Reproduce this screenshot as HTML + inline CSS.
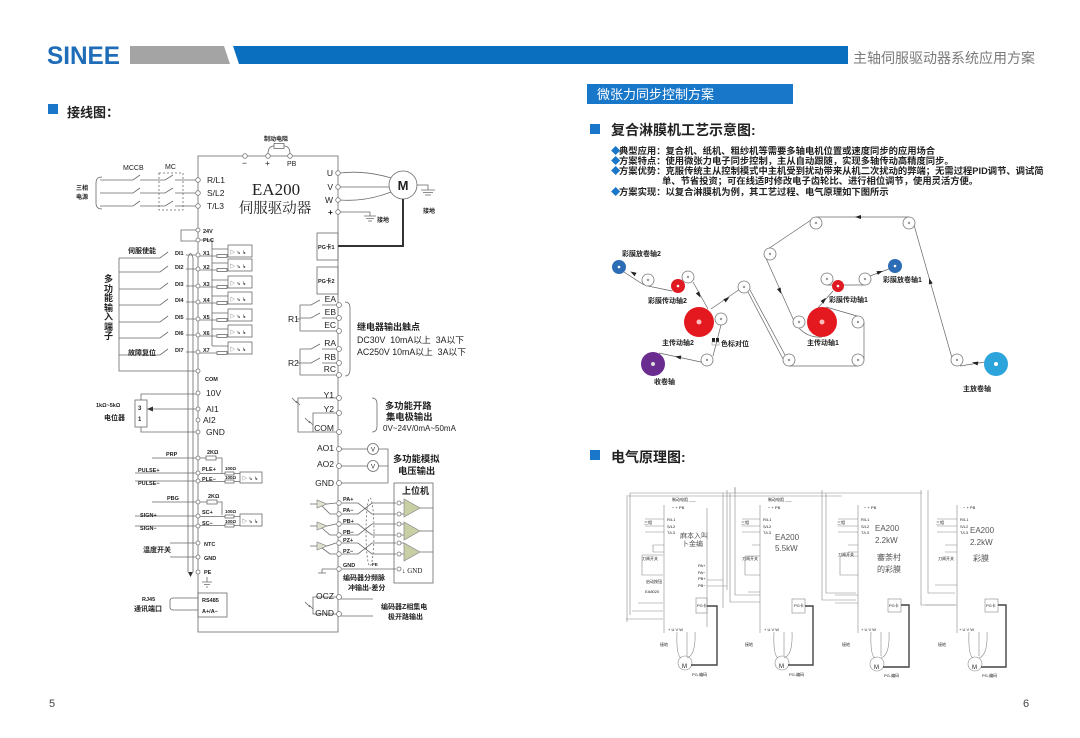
<!DOCTYPE html>
<html><head><meta charset="utf-8">
<style>
html,body{margin:0;padding:0;background:#fff;}
svg{display:block;}
text{font-family:"Liberation Sans","Noto Sans CJK SC",sans-serif;fill:#222;}
.b{font-weight:bold;}
.t6{font-size:6px;}
.t7{font-size:7px;}
.t8{font-size:8.5px;}
.sm{font-size:4px;fill:#888;}
</style></head><body>
<svg width="1080" height="738" viewBox="0 0 1080 738" xmlns="http://www.w3.org/2000/svg">
<rect width="1080" height="738" fill="#fff"/>
<!-- HEADER -->
<text x="47" y="64" font-size="25" font-weight="bold" style="fill:#1f6db8" textLength="73" lengthAdjust="spacingAndGlyphs">SINEE</text>
<polygon points="130,46 224,46 230,64 130,64" fill="#a4a4a4"/>
<polygon points="233,46 848,46 848,64 239,64" fill="#0b6fc0"/>
<text x="853" y="63" font-size="14" style="fill:#7a7a7a">主轴伺服驱动器系统应用方案</text>

<!-- LEFT TITLE -->
<rect x="48" y="104" width="10" height="10" fill="#1a76c8"/>
<text x="67" y="117" font-size="13" class="b">接线图：</text>

<!-- RIGHT TITLES -->
<rect x="587" y="84" width="206" height="20" fill="#1877c9"/>
<text x="597" y="99" font-size="13" style="fill:#fff">微张力同步控制方案</text>
<rect x="590" y="124" width="10" height="10" fill="#1a76c8"/>
<text x="611" y="135" font-size="14" class="b">复合淋膜机工艺示意图:</text>
<g font-size="9.3" class="b">
<text x="611" y="154" style="fill:#1a76c8">◆</text><text x="619" y="154" class="b">典型应用：复合机、纸机、粗纱机等需要多轴电机位置或速度同步的应用场合</text>
<text x="611" y="164" style="fill:#1a76c8">◆</text><text x="619" y="164" class="b">方案特点：使用微张力电子同步控制，主从自动跟随，实现多轴传动高精度同步。</text>
<text x="611" y="174" style="fill:#1a76c8">◆</text><text x="619" y="174" class="b">方案优势：克服传统主从控制模式中主机受到扰动带来从机二次扰动的弊端；无需过程PID调节、调试简</text>
<text x="662" y="184" class="b">单、节省投资；可在线适时修改电子齿轮比、进行相位调节，使用灵活方便。</text>
<text x="611" y="195" style="fill:#1a76c8">◆</text><text x="619" y="195" class="b">方案实现：以复合淋膜机为例，其工艺过程、电气原理如下图所示</text>
</g>

<!-- ============ LEFT WIRING DIAGRAM ============ -->
<g stroke="#6a6a6a" stroke-width="0.8" fill="none">
<rect x="198" y="156" width="140" height="476"/>
<path d="M268,154 Q268,146 274,146 M284,146 Q290,146 290,154"/>
<rect x="274" y="143.5" width="10" height="5"/>
<path d="M100,180 H133 L140,175 M140,180 H165 L173,175 M175,180 H198"/>
<path d="M100,193 H133 L140,188 M140,193 H165 L173,188 M175,193 H198"/>
<path d="M100,206 H133 L140,201 M140,206 H165 L173,201 M175,206 H198"/>
<path d="M102,177 Q96,177 96,183 V203 Q96,209 102,209"/>
<rect x="159" y="173" width="24" height="37" stroke-dasharray="2,2"/>
<path d="M340,173 Q365,170 391,178 M340,187 H389 M340,200 Q365,202 391,192"/>
<circle cx="403" cy="185" r="14"/>
<path d="M417,185 H428 V190 M421,190 H435 M423,192.5 H433 M425,195 H431"/>
<path d="M340,212 H370 V216 M364,216 H376 M366,218.5 H374 M368,221 H372"/>
<rect x="317" y="233" width="21" height="27"/>
<rect x="317" y="267" width="21" height="27"/>
<path d="M297,319 H300 M300,305 V331 M300,305 H311 L320,300 M322,305 H337 M300,318 H311 L320,313 M322,318 H337 M300,331 H337"/>
<path d="M297,363 H300 M300,349 V375 M300,349 H311 L320,344 M322,349 H337 M300,363 H311 L320,358 M322,363 H337 M300,375 H337"/>
<path d="M345,302 Q350,302 350,308 V369 Q350,376 345,376"/>
<path d="M196,230 H181 V241 H196"/>
<path d="M119,258 V371 H196"/>
<path d="M119,258 H160 L168,252 M186,255 H196"/>
<path d="M119,272 H160 L168,266 M186,269 H196"/>
<path d="M119,289 H160 L168,283 M186,286 H196"/>
<path d="M119,305 H160 L168,299 M186,302 H196"/>
<path d="M119,322 H160 L168,316 M186,319 H196"/>
<path d="M119,338 H160 L168,332 M186,335 H196"/>
<path d="M119,355 H160 L168,349 M186,352 H196"/>
<path d="M200,240 H212 V346"/>
<g>
<path d="M212,249 H228 M200,256 H217 M227,256 H228"/><rect x="217" y="254.5" width="10" height="3"/><rect x="228" y="245" width="24" height="12"/>
<path d="M212,263 H228 M200,270 H217 M227,270 H228"/><rect x="217" y="268.5" width="10" height="3"/><rect x="228" y="259" width="24" height="12"/>
<path d="M212,280 H228 M200,287 H217 M227,287 H228"/><rect x="217" y="285.5" width="10" height="3"/><rect x="228" y="276" width="24" height="12"/>
<path d="M212,296 H228 M200,303 H217 M227,303 H228"/><rect x="217" y="301.5" width="10" height="3"/><rect x="228" y="292" width="24" height="12"/>
<path d="M212,313 H228 M200,320 H217 M227,320 H228"/><rect x="217" y="318.5" width="10" height="3"/><rect x="228" y="309" width="24" height="12"/>
<path d="M212,329 H228 M200,336 H217 M227,336 H228"/><rect x="217" y="334.5" width="10" height="3"/><rect x="228" y="325" width="24" height="12"/>
<path d="M212,346 H228 M200,353 H217 M227,353 H228"/><rect x="217" y="351.5" width="10" height="3"/><rect x="228" y="342" width="24" height="12"/>
</g>
<path d="M188,572 V258 Q190.5,249 193,258 V572"/>
<rect x="135" y="400" width="12" height="27"/>
<path d="M141,400 V394 H196 M141,427 V432 H196 M196,409 H152"/>
<path d="M152,458 H196 M200,458 H206 M216,458 H222 V473"/><rect x="206" y="456" width="10" height="4"/>
<path d="M135,473 H196 M135,481 H196 M200,473.5 H225 M234,473.5 H240 M200,481.5 H225 M234,481.5 H240"/>
<rect x="225" y="472" width="9" height="3"/><rect x="225" y="480" width="9" height="3"/><rect x="240" y="472" width="22" height="11"/>
<path d="M152,502 H196 M200,502 H207 M217,502 H222 V515"/><rect x="207" y="500" width="10" height="4"/>
<path d="M135,516 H196 M135,526 H196 M200,516.5 H225 M234,516.5 H240 M200,525.5 H225 M234,525.5 H240"/>
<rect x="225" y="515" width="9" height="3"/><rect x="225" y="524" width="9" height="3"/><rect x="240" y="514" width="22" height="12"/>
<path d="M170,543 H196 M170,557 H196"/>
<path d="M207,577 V582 M202,582 H212 M204,584.5 H210 M206,587 H208"/>
<rect x="198" y="593" width="29" height="24"/>
<path d="M198,598 H173 Q170,598 170,601 V607 Q170,610 173,610 H198"/>
<path d="M337,398 H298 V432 H337 M337,413 H313 V432"/>
<path d="M292,398 L297,403 M296,401 L300,405 M305,418 L310,423 M309,421 L313,425"/>
<path d="M372,398 Q377,398 377,404 V426 Q377,432 372,432"/>
<circle cx="373" cy="449" r="5.5"/><circle cx="373" cy="466" r="5.5"/>
<path d="M341,449 H367 M379,449 H388 V483 M341,466 H367 M379,466 H388 M341,483 H388"/>
<rect x="394" y="483" width="39" height="100"/>
<path d="M310,504 H317 M327,504 L336,503 M322,506 L330,514 H336"/>
<path d="M310,526 H317 M327,526 L336,524 M322,528 L330,535 H336"/>
<path d="M310,546 H317 M327,546 L336,543 M322,548 L330,554 H336"/>
<path d="M342,503 H358 L372,514 H396 M342,514 H358 L372,503 H396"/>
<path d="M342,524 H358 L372,535 H396 M342,535 H358 L372,524 H396"/>
<path d="M342,543 H358 L372,554 H396 M342,554 H358 L372,543 H396"/>
<path d="M342,569 H396 M322,569 H336 M322,569 V573 M318,573 H326"/>
<ellipse cx="370" cy="532" rx="4" ry="34" stroke-dasharray="2,2"/>
<path d="M401,503 H404 M401,514 H404 M401,524 H404 M401,535 H404 M401,543 H404 M401,554 H404 M420,508 H433 M420,531 H433 M420,552 H433"/>
<path d="M337,597 H313 V614 H337 M341,599 H373 M341,616 H373 M305,602 L310,607 M309,605 L313,609"/>
</g>
<path d="M338,246 H403 V199" stroke="#333" stroke-width="2" fill="none"/>
<g fill="#dfe3cf" stroke="#888" stroke-width="0.7">
<polygon points="317,500 317,508 327,504"/><polygon points="317,522 317,530 327,526"/><polygon points="317,542 317,550 327,546"/>
</g>
<g fill="#c9cfa5" stroke="#888" stroke-width="0.7">
<polygon points="404,499 404,517 420,508"/><polygon points="404,522 404,540 420,531"/><polygon points="404,543 404,561 420,552"/>
</g>
<g fill="#fff" stroke="#777" stroke-width="0.8">
<circle cx="245" cy="156" r="2.3"/><circle cx="268" cy="156" r="2.3"/><circle cx="290" cy="156" r="2.3"/>
<circle cx="198" cy="180" r="2.3"/><circle cx="198" cy="193" r="2.3"/><circle cx="198" cy="206" r="2.3"/>
<circle cx="198" cy="230" r="2"/><circle cx="198" cy="240" r="2"/><circle cx="198" cy="255" r="2"/><circle cx="198" cy="269" r="2"/><circle cx="198" cy="286" r="2"/><circle cx="198" cy="302" r="2"/><circle cx="198" cy="319" r="2"/><circle cx="198" cy="335" r="2"/><circle cx="198" cy="352" r="2"/><circle cx="198" cy="371" r="2"/>
<circle cx="198" cy="393" r="2"/><circle cx="198" cy="409" r="2"/><circle cx="198" cy="420" r="2"/><circle cx="198" cy="432" r="2"/>
<circle cx="198" cy="458" r="2"/><circle cx="198" cy="473" r="2"/><circle cx="198" cy="481" r="2"/><circle cx="198" cy="502" r="2"/><circle cx="198" cy="516" r="2"/><circle cx="198" cy="526" r="2"/><circle cx="198" cy="543" r="2"/><circle cx="198" cy="557" r="2"/><circle cx="198" cy="572" r="2"/>
<circle cx="338" cy="173" r="2.3"/><circle cx="338" cy="187" r="2.3"/><circle cx="338" cy="200" r="2.3"/><circle cx="338" cy="212" r="2.3"/>
<circle cx="339" cy="305" r="2.5"/><circle cx="339" cy="318" r="2.5"/><circle cx="339" cy="331" r="2.5"/><circle cx="339" cy="349" r="2.5"/><circle cx="339" cy="363" r="2.5"/><circle cx="339" cy="375" r="2.5"/>
<circle cx="339" cy="398" r="2.5"/><circle cx="339" cy="413" r="2.5"/><circle cx="339" cy="432" r="2.5"/>
<circle cx="339" cy="449" r="2.5"/><circle cx="339" cy="466" r="2.5"/><circle cx="339" cy="483" r="2.5"/>
<circle cx="339" cy="503" r="2.3"/><circle cx="339" cy="514" r="2.3"/><circle cx="339" cy="524" r="2.3"/><circle cx="339" cy="535" r="2.3"/><circle cx="339" cy="543" r="2.3"/><circle cx="339" cy="554" r="2.3"/><circle cx="339" cy="569" r="2.3"/>
<circle cx="399" cy="503" r="2"/><circle cx="399" cy="514" r="2"/><circle cx="399" cy="524" r="2"/><circle cx="399" cy="535" r="2"/><circle cx="399" cy="543" r="2"/><circle cx="399" cy="554" r="2"/><circle cx="399" cy="569" r="2"/>
<circle cx="339" cy="597" r="2.5"/><circle cx="339" cy="614" r="2.5"/>
</g>
<polygon points="147,409 153,406.5 153,411.5" fill="#333"/>
<polygon points="188,572 193,572 190.5,577" fill="#333"/>
<text x="264" y="141" class="t6 b">制动电阻</text>
<text x="242" y="166" class="t8">−</text><text x="265" y="166" class="t8">+</text><text x="287" y="166" class="t7">PB</text>
<text x="123" y="170" class="t7">MCCB</text><text x="165" y="169" class="t7">MC</text>
<text x="76" y="190" class="t6 b">三相</text><text x="76" y="199" class="t6 b">电源</text>
<text x="207" y="183" class="t8">R/L1</text><text x="207" y="196" class="t8">S/L2</text><text x="207" y="209" class="t8">T/L3</text>
<text x="276" y="195" font-size="17" text-anchor="middle" style="font-family:'Liberation Serif','Noto Serif CJK SC',serif">EA200</text>
<text x="275" y="213" font-size="14.5" text-anchor="middle" style="font-family:'Liberation Serif','Noto Serif CJK SC',serif">伺服驱动器</text>
<text x="333" y="176" class="t8" text-anchor="end">U</text><text x="333" y="190" class="t8" text-anchor="end">V</text><text x="333" y="203" class="t8" text-anchor="end">W</text><text x="333" y="215" class="t8 b" text-anchor="end">+</text>
<text x="403" y="190" font-size="13" class="b" text-anchor="middle">M</text>
<text x="423" y="213" class="t6 b">接地</text><text x="377" y="222" class="t6 b">接地</text>
<text x="318" y="249" font-size="5.5" class="b">PG卡1</text><text x="318" y="283" font-size="5.5" class="b">PG卡2</text>
<text x="336" y="302" class="t8" text-anchor="end">EA</text><text x="336" y="315" class="t8" text-anchor="end">EB</text><text x="336" y="328" class="t8" text-anchor="end">EC</text>
<text x="336" y="346" class="t8" text-anchor="end">RA</text><text x="336" y="360" class="t8" text-anchor="end">RB</text><text x="336" y="372" class="t8" text-anchor="end">RC</text>
<text x="288" y="322" class="t8">R1</text><text x="288" y="366" class="t8">R2</text>
<text x="357" y="330" font-size="9" class="b">继电器输出触点</text>
<text x="357" y="343" font-size="8.8" xml:space="preserve">DC30V  10mA以上  3A以下</text>
<text x="357" y="355" font-size="8.8" xml:space="preserve">AC250V 10mA以上  3A以下</text>
<g font-size="5.5" class="b">
<text x="203" y="233">24V</text><text x="203" y="242">PLC</text>
<text x="203" y="255">X1</text><text x="203" y="269">X2</text><text x="203" y="286">X3</text><text x="203" y="302">X4</text><text x="203" y="319">X5</text><text x="203" y="335">X6</text><text x="203" y="352">X7</text>
<text x="175" y="255">DI1</text><text x="175" y="269">DI2</text><text x="175" y="286">DI3</text><text x="175" y="302">DI4</text><text x="175" y="319">DI5</text><text x="175" y="335">DI6</text><text x="175" y="352">DI7</text>
<text x="205" y="381">COM</text>
</g>
<g font-size="5" style="fill:#444">
<text x="230" y="254">▷ ⇘ ↳</text><text x="230" y="268">▷ ⇘ ↳</text><text x="230" y="285">▷ ⇘ ↳</text><text x="230" y="301">▷ ⇘ ↳</text><text x="230" y="318">▷ ⇘ ↳</text><text x="230" y="334">▷ ⇘ ↳</text><text x="230" y="351">▷ ⇘ ↳</text>
<text x="242" y="480">▷ ⇘ ↳</text><text x="242" y="523">▷ ⇘ ↳</text>
</g>
<text x="128" y="253" class="t7 b">伺服使能</text><text x="128" y="355" class="t7 b">故障复位</text>
<g font-size="9" class="b">
<text x="104" y="282">多</text><text x="104" y="292">功</text><text x="104" y="301">能</text><text x="104" y="311">输</text><text x="104" y="320">入</text><text x="104" y="330">端</text><text x="104" y="339">子</text>
</g>
<text x="206" y="396" class="t8">10V</text><text x="206" y="412" class="t8">AI1</text><text x="203" y="423" class="t8">AI2</text><text x="206" y="435" class="t8">GND</text>
<text x="138" y="410" class="t6 b">3</text><text x="138" y="421" class="t6 b">1</text>
<text x="96" y="407" font-size="5.5" class="b">1kΩ~5kΩ</text><text x="104" y="420" class="t7 b">电位器</text>
<g font-size="5.5" class="b">
<text x="166" y="456">PRP</text><text x="207" y="454">2KΩ</text>
<text x="138" y="472">PULSE+</text><text x="138" y="485">PULSE−</text>
<text x="202" y="471">PLE+</text><text x="202" y="481">PLE−</text>
<text x="225" y="470" font-size="4.5">100Ω</text><text x="225" y="479" font-size="4.5">100Ω</text>
<text x="167" y="500">PBG</text><text x="208" y="498">2KΩ</text>
<text x="140" y="517">SIGN+</text><text x="140" y="530">SIGN−</text>
<text x="202" y="514">SC+</text><text x="202" y="525">SC−</text>
<text x="225" y="513" font-size="4.5">100Ω</text><text x="225" y="523" font-size="4.5">100Ω</text>
<text x="204" y="546">NTC</text><text x="204" y="560">GND</text><text x="204" y="574">PE</text>
<text x="202" y="602">RS485</text><text x="202" y="613">A+/A−</text>
<text x="142" y="601">RJ45</text>
</g>
<text x="143" y="552" class="t7 b">温度开关</text>
<text x="134" y="611" class="t7 b">通讯端口</text>
<text x="334" y="398" class="t8" text-anchor="end">Y1</text><text x="334" y="412" class="t8" text-anchor="end">Y2</text><text x="334" y="431" class="t8" text-anchor="end">COM</text>
<text x="385" y="409" font-size="9.3" class="b">多功能开路</text><text x="386" y="420" font-size="9.3" class="b">集电极输出</text>
<text x="383" y="431" font-size="8">0V~24V/0mA~50mA</text>
<text x="334" y="451" class="t8" text-anchor="end">AO1</text><text x="334" y="467" class="t8" text-anchor="end">AO2</text><text x="334" y="486" class="t8" text-anchor="end">GND</text>
<text x="373" y="451.5" font-size="6" text-anchor="middle">V</text><text x="373" y="468.5" font-size="6" text-anchor="middle">V</text>
<text x="393" y="462" font-size="9.3" class="b">多功能模拟</text><text x="398" y="474" font-size="9.3" class="b">电压输出</text>
<text x="402" y="494" font-size="9" class="b">上位机</text>
<g font-size="5.5" class="b">
<text x="343" y="501">PA+</text><text x="343" y="512">PA−</text><text x="343" y="523">PB+</text><text x="343" y="534">PB−</text><text x="343" y="542">PZ+</text><text x="343" y="553">PZ−</text><text x="343" y="567">GND</text>
<text x="372" y="566" font-size="4.5">FE</text>
</g>
<text x="402" y="573" font-size="7" style="font-family:'Liberation Serif',serif">↓ GND</text>
<text x="343" y="580" font-size="7" class="b">编码器分频脉</text><text x="348" y="590" font-size="7" class="b">冲输出-差分</text>
<text x="334" y="599" class="t8" text-anchor="end">OCZ</text><text x="334" y="616" class="t8" text-anchor="end">GND</text>
<text x="381" y="609" font-size="7" class="b">编码器Z相集电</text><text x="388" y="619" font-size="7" class="b">极开路输出</text>

<!-- ============ PROCESS DIAGRAM ============ -->
<g stroke="#666" stroke-width="0.7" fill="none">
<path d="M985,362 L960,366"/>
<path d="M952,358 L914,225"/>
<path d="M909,217 H816"/>
<path d="M811,220 L765,251"/>
<path d="M765,256 L794,321"/>
<path d="M799,328 Q808,338 822,337"/>
<path d="M826,307 L857,316"/>
<path d="M864,322 V360"/>
<path d="M858,366 H789"/>
<path d="M783,359 L748,292"/>
<path d="M740,289 L711,309"/>
<path d="M721,325 L713,356"/>
<path d="M701,362 L659,353"/>
<path d="M624,272 L644,285"/>
<path d="M648,286 L672,291"/>
<path d="M684,281 L688,271"/>
<path d="M693,282 L708,309"/>
<path d="M817,309 L833,291"/>
<path d="M827,285 H865"/>
<path d="M870,276 L889,269"/>
<path d="M750,290 L785,355"/>
</g>
<g fill="#fff" stroke="#777" stroke-width="0.8">
<circle cx="648" cy="280" r="6"/><circle cx="688" cy="277" r="6"/><circle cx="721" cy="319" r="6"/><circle cx="744" cy="287" r="6"/>
<circle cx="707" cy="360" r="6"/><circle cx="789" cy="360" r="6"/><circle cx="858" cy="360" r="6"/><circle cx="858" cy="322" r="6"/>
<circle cx="799" cy="322" r="6"/><circle cx="770" cy="254" r="6"/><circle cx="816" cy="223" r="6"/><circle cx="909" cy="223" r="6"/>
<circle cx="957" cy="360" r="6"/><circle cx="827" cy="279" r="6"/><circle cx="865" cy="279" r="6"/>
</g>
<g fill="#999">
<circle cx="648" cy="280" r="1.2"/><circle cx="688" cy="277" r="1.2"/><circle cx="721" cy="319" r="1.2"/><circle cx="744" cy="287" r="1.2"/>
<circle cx="707" cy="360" r="1.2"/><circle cx="789" cy="360" r="1.2"/><circle cx="858" cy="360" r="1.2"/><circle cx="858" cy="322" r="1.2"/>
<circle cx="799" cy="322" r="1.2"/><circle cx="770" cy="254" r="1.2"/><circle cx="816" cy="223" r="1.2"/><circle cx="909" cy="223" r="1.2"/>
<circle cx="957" cy="360" r="1.2"/><circle cx="827" cy="279" r="1.2"/><circle cx="865" cy="279" r="1.2"/>
</g>
<circle cx="619" cy="267" r="7" fill="#2d6db5"/><circle cx="619" cy="267" r="1.3" fill="#fff"/>
<circle cx="678" cy="286" r="7" fill="#e01a22"/><circle cx="678" cy="286" r="1.3" fill="#fff"/>
<circle cx="699" cy="322" r="15" fill="#e3191f"/><circle cx="699" cy="322" r="2.5" fill="#fbb"/>
<circle cx="653" cy="364" r="12" fill="#6a2d8f"/><circle cx="653" cy="364" r="2" fill="#ddd"/>
<circle cx="822" cy="322" r="15" fill="#e3191f"/><circle cx="822" cy="322" r="2.5" fill="#fbb"/>
<circle cx="838" cy="286" r="6" fill="#e01a22"/><circle cx="838" cy="286" r="1.3" fill="#fff"/>
<circle cx="895" cy="266" r="7" fill="#2d6db5"/><circle cx="895" cy="266" r="1.3" fill="#fff"/>
<circle cx="996" cy="364" r="12" fill="#2ea4dd"/><circle cx="996" cy="364" r="2" fill="#fff"/>
<g fill="#222">
<polygon points="-3,-2 3,0 -3,2" transform="translate(633,273) rotate(210)"/>
<polygon points="-3,-2 3,0 -3,2" transform="translate(699,295) rotate(60)"/>
<polygon points="-3,-2 3,0 -3,2" transform="translate(727,299) rotate(-35)"/>
<polygon points="-3,-2 3,0 -3,2" transform="translate(678,357) rotate(190)"/>
<polygon points="-3,-2 3,0 -3,2" transform="translate(780,291) rotate(66)"/>
<polygon points="-3,-2 3,0 -3,2" transform="translate(824,300) rotate(-50)"/>
<polygon points="-3,-2 3,0 -3,2" transform="translate(880,272) rotate(-20)"/>
<polygon points="-3,-2 3,0 -3,2" transform="translate(858,217) rotate(180)"/>
<polygon points="-3,-2 3,0 -3,2" transform="translate(930,281) rotate(-106)"/>
<polygon points="-3,-2 3,0 -3,2" transform="translate(975,363) rotate(190)"/>
</g>
<rect x="712" y="338" width="3" height="4" fill="#222"/><rect x="716" y="338" width="3" height="4" fill="#222"/>
<rect x="712" y="342" width="7" height="3" fill="none" stroke="#888" stroke-width="0.5"/>
<g font-size="7" class="b">
<text x="622" y="256">彩膜放卷轴2</text>
<text x="648" y="303">彩膜传动轴2</text>
<text x="662" y="345">主传动轴2</text>
<text x="721" y="346">色标对位</text>
<text x="654" y="384">收卷轴</text>
<text x="883" y="282">彩膜放卷轴1</text>
<text x="829" y="302">彩膜传动轴1</text>
<text x="807" y="345">主传动轴1</text>
<text x="963" y="391">主放卷轴</text>
</g>

<!-- ============ ELECTRICAL DIAGRAM ============ -->
<rect x="590" y="450" width="10" height="10" fill="#1a76c8"/>
<text x="611" y="462" font-size="14" class="b">电气原理图:</text>
<g stroke="#888" stroke-width="0.6" fill="none">
<path d="M630,493 H922 M626,496 H842 M735,487 V493"/>
<path d="M627,497 V622 M630,493 V615 M723,493 V608 M727,490 V590"/>
<path d="M730,493 V602 H760 M735,488 V595 H760"/>
<path d="M822,490 V600 H856 M826,493 V593 H856"/>
<path d="M921,490 V605 H955 M928,490 V593 H955"/>
<!-- block1 -->
<path d="M664,505 V633 M707,508 V627 M645,519 H664 M645,526 H664 M645,532 H664 M653,545 H664 V552 H653 Z M642,555 H663 M642,555 V575 H663 M638,603 H663 M632,611 H663 M626,619 H663"/>
<path d="M707,580 H723 M707,586 H727"/>
<path d="M677,632 Q676,655 681,658 M687,632 V656 M695,632 Q696,655 687,658"/>
<circle cx="685" cy="663" r="7"/>
<rect x="696" y="598" width="11" height="15"/>
<!-- block2 -->
<path d="M760,505 V633 M742,519 H760 M742,526 H760 M742,532 H760 M752,545 H760 M745,556 H760 M745,556 V575 H760 M748,592 H760"/>
<path d="M774,632 Q773,655 778,658 M784,632 V656 M792,632 Q793,655 784,658"/>
<circle cx="782" cy="663" r="7"/>
<rect x="792" y="599" width="13" height="14"/>
<!-- block3 -->
<path d="M858,505 V633 M838,519 H858 M838,526 H858 M838,532 H858 M848,545 H858 V552 H848 M840,556 H858 M840,556 V575 H858 M835,595 H858 M835,603 H858"/>
<path d="M871,632 Q870,655 875,658 M881,632 V656 M889,632 Q890,655 881,658"/>
<circle cx="877" cy="664" r="7"/>
<rect x="888" y="599" width="13" height="13"/>
<!-- block4 -->
<path d="M957,505 V633 M937,519 H957 M937,526 H957 M937,532 H957 M945,545 H957 M945,552 H957 M935,585 H957 M925,605 H957"/>
<path d="M969,632 Q968,655 973,658 M979,632 V656 M987,632 Q988,655 979,658"/>
<circle cx="975" cy="664" r="7"/>
<rect x="985" y="599" width="13" height="13"/>
</g>
<g stroke="#444" stroke-width="1.4" fill="none">
<path d="M707,606 H717 V665 H691"/>
<path d="M805,606 H813 V665 H788"/>
<path d="M901,605 H909 V667 H883"/>
<path d="M998,605 H1006 V667 H981"/>
</g>
<g class="sm">
<text x="672" y="501">制动电阻 ___</text><text x="672" y="509">−  +  PB</text>
<text x="768" y="501">制动电阻 ___</text><text x="768" y="509">−  +  PB</text>
<text x="864" y="509">−  +  PB</text><text x="963" y="509">−  +  PB</text>
<text x="667" y="521">R/L1</text><text x="667" y="528">S/L2</text><text x="667" y="534">T/L3</text>
<text x="763" y="521">R/L1</text><text x="763" y="528">S/L2</text><text x="763" y="534">T/L3</text>
<text x="861" y="521">R/L1</text><text x="861" y="528">S/L2</text><text x="861" y="534">T/L3</text>
<text x="960" y="521">R/L1</text><text x="960" y="528">S/L2</text><text x="960" y="534">T/L3</text>
<text x="644" y="524">三相</text><text x="741" y="524">三相</text><text x="837" y="524">三相</text><text x="936" y="524">三相</text>
<text x="642" y="560">刀闸开关</text><text x="742" y="560">刀闸开关</text><text x="838" y="556">刀闸开关</text><text x="938" y="560">刀闸开关</text>
<text x="646" y="583">启动按钮</text><text x="645" y="593">EA8020</text>
<text x="698" y="567">PA+</text><text x="698" y="574">PA−</text><text x="698" y="580">PB+</text><text x="698" y="587">PB−</text>
<text x="668" y="631">+ U V W</text><text x="764" y="631">+ U V W</text><text x="861" y="631">+ U V W</text><text x="959" y="631">+ U V W</text>
<text x="660" y="646">接地</text><text x="745" y="646">接地</text><text x="842" y="646">接地</text><text x="938" y="646">接地</text>
<text x="692" y="676">PG-编码</text><text x="789" y="676">PG-编码</text><text x="884" y="677">PG-编码</text><text x="982" y="677">PG-编码</text>
<text x="697" y="607">PG卡</text><text x="794" y="607">PG卡</text><text x="889" y="607">PG卡</text><text x="986" y="607">PG卡</text>
</g>
<g font-size="6" style="fill:#555">
<text x="682" y="668">M</text><text x="779" y="668">M</text><text x="874" y="669">M</text><text x="972" y="669">M</text>
</g>
<g font-size="8" style="font-family:'Liberation Serif','Noto Serif CJK SC',serif">
<text x="680" y="538" font-size="7" style="fill:#555">麻本入叫</text><text x="682" y="546" font-size="7" style="fill:#555">卜金编</text>
<text x="775" y="540" style="fill:#555">EA200</text><text x="775" y="551" style="fill:#555">5.5kW</text>
<text x="875" y="531" style="fill:#555">EA200</text><text x="875" y="543" style="fill:#555">2.2kW</text>
<text x="877" y="560" style="fill:#555">審荼村</text><text x="877" y="572" style="fill:#555">的彩膜</text>
<text x="970" y="533" style="fill:#555">EA200</text><text x="970" y="545" style="fill:#555">2.2kW</text>
<text x="973" y="561" style="fill:#555">彩膜</text>
</g>

<text x="49" y="707" font-size="11" style="fill:#444">5</text>
<text x="1023" y="707" font-size="11" style="fill:#444">6</text>
</svg>
</body></html>
